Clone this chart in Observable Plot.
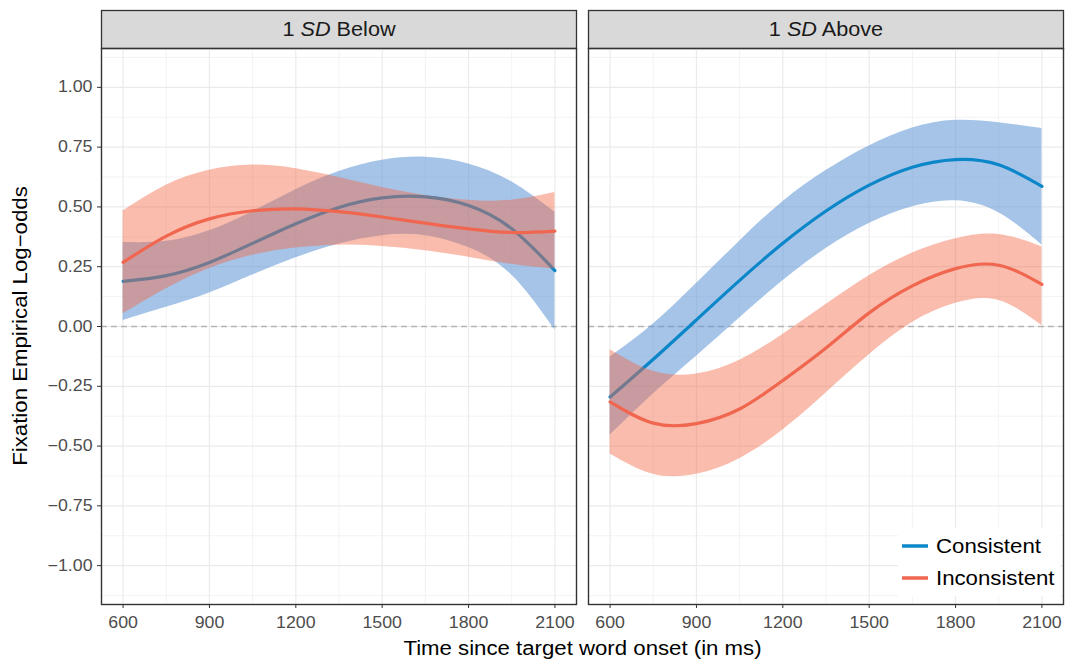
<!DOCTYPE html>
<html>
<head>
<meta charset="utf-8">
<script src="https://cdn.jsdelivr.net/npm/d3@7"></script>
<script src="https://cdn.jsdelivr.net/npm/@observablehq/plot@0.6"></script>
<style>
  body { margin: 0; background: #fff; }
  #chart { position: relative; width: 1068px; height: 659px; }
</style>
</head>
<body>
<div id="chart"></div>
<script>
// ---- Data ----
const panels = ["1 SD Below", "1 SD Above"];
const conditions = ["Consistent", "Inconsistent"];
const lineColors = ["#0b87c9", "#f0664f"];
const ribbonFills = ["#5b93d6", "#f26b4a"];
const ribbonOpacity = [0.55, 0.45];

const times = [600, 750, 900, 1050, 1200, 1350, 1500, 1650, 1800, 1950, 2100];

// Panel "1 SD Below"
const belowConsFit = [0.189, 0.213, 0.268, 0.348, 0.430, 0.498, 0.538, 0.542, 0.506, 0.409, 0.234];
const belowConsLo  = [0.025, 0.080, 0.140, 0.215, 0.287, 0.345, 0.380, 0.380, 0.330, 0.215, -0.015];
const belowConsHi  = [0.351, 0.356, 0.400, 0.480, 0.572, 0.648, 0.695, 0.708, 0.680, 0.605, 0.478];
const belowIncFit  = [0.268, 0.378, 0.450, 0.484, 0.492, 0.480, 0.458, 0.432, 0.408, 0.393, 0.399];
const belowIncLo   = [0.053, 0.158, 0.243, 0.298, 0.328, 0.340, 0.335, 0.317, 0.290, 0.260, 0.240];
const belowIncHi   = [0.483, 0.591, 0.653, 0.675, 0.660, 0.623, 0.581, 0.548, 0.528, 0.528, 0.560];

// Panel "1 SD Above"
const aboveConsFit = [-0.295, -0.137, 0.028, 0.193, 0.348, 0.483, 0.591, 0.666, 0.698, 0.676, 0.586];
const aboveConsLo  = [-0.454, -0.282, -0.124, 0.036, 0.191, 0.326, 0.431, 0.501, 0.526, 0.476, 0.341];
const aboveConsHi  = [-0.128, 0.010, 0.180, 0.357, 0.522, 0.652, 0.755, 0.830, 0.862, 0.852, 0.828];
const aboveIncFit  = [-0.315, -0.404, -0.406, -0.345, -0.226, -0.090, 0.057, 0.170, 0.242, 0.256, 0.176];
const aboveIncLo   = [-0.533, -0.618, -0.618, -0.553, -0.433, -0.278, -0.118, 0.017, 0.097, 0.109, 0.004];
const aboveIncHi   = [-0.097, -0.187, -0.199, -0.141, -0.033, 0.092, 0.212, 0.307, 0.367, 0.385, 0.333];

const yMajor = [-1, -0.75, -0.5, -0.25, 0, 0.25, 0.5, 0.75, 1];
const yMinor = [-1.125, -0.875, -0.625, -0.375, -0.125, 0.125, 0.375, 0.625, 0.875, 1.125];
const xMajor = [600, 900, 1200, 1500, 1800, 2100];
const xMinor = [750, 1050, 1350, 1650, 1950];

const xTitle = "Time since target word onset (in ms)";
const yTitle = "Fixation Empirical Log\u2212odds";

// ---- Build table ----
const series = {
  "1 SD Below": {
    Consistent: [belowConsFit, belowConsLo, belowConsHi],
    Inconsistent: [belowIncFit, belowIncLo, belowIncHi]
  },
  "1 SD Above": {
    Consistent: [aboveConsFit, aboveConsLo, aboveConsHi],
    Inconsistent: [aboveIncFit, aboveIncLo, aboveIncHi]
  }
};
const rows = [];
for (const p of panels) for (const c of conditions) {
  const [fit, lo, hi] = series[p][c];
  times.forEach((t, i) => rows.push({panel: p, condition: c, time: t, fit: fit[i], lo: lo[i], hi: hi[i]}));
}

const W = 1068, H = 659, mL = 101, mR = 4, mT = 48, mB = 55;
const gridStyle = {stroke: "#ebebeb", strokeOpacity: 1};
const ff = '"Liberation Sans", Arial, sans-serif';

const condMarks = conditions.flatMap((c, i) => {
  const d = rows.filter(r => r.condition === c);
  return [
    Plot.areaY(d, {x: "time", y1: "lo", y2: "hi", fx: "panel", fill: ribbonFills[i], fillOpacity: ribbonOpacity[i], curve: "natural"}),
    Plot.lineY(d, {x: "time", y: "fit", fx: "panel", stroke: lineColors[i], strokeWidth: 3.2, curve: "natural"})
  ];
});

const svg = Plot.plot({
  width: W, height: H,
  marginLeft: mL, marginRight: mR, marginTop: mT, marginBottom: mB,
  style: {fontFamily: ff, fontSize: "16px", background: "white", overflow: "visible"},
  fx: {domain: panels, paddingInner: 0.0246, paddingOuter: 0, axis: null, label: null},
  x: {domain: [525, 2175]},
  y: {domain: [-1.1625, 1.1625]},
  marks: [
    Plot.frame({fill: "#d9d9d9", stroke: "#333333", strokeWidth: 1.3, insetTop: -38, insetBottom: H - mT - mB}),
    Plot.gridX(xMinor, {...gridStyle, strokeWidth: 0.6}),
    Plot.gridY(yMinor, {...gridStyle, strokeWidth: 0.6}),
    Plot.gridX(xMajor, {...gridStyle, strokeWidth: 1.2}),
    Plot.gridY(yMajor, {...gridStyle, strokeWidth: 1.2}),
    Plot.ruleY([0], {stroke: "#b5b5b5", strokeWidth: 1.4, strokeDasharray: "6,4"}),
    ...condMarks,
    Plot.frame({stroke: "#333333", strokeWidth: 1.4}),
    Plot.axisY(yMajor, {tickSize: 4, tickPadding: 5, tickFormat: d3.format(".2f"), fill: "#4d4d4d", stroke: "#333333", fontSize: 16, label: null}),
    Plot.axisX(xMajor, {tickSize: 4, tickPadding: 8, tickFormat: d => String(d), fill: "#4d4d4d", stroke: "#333333", fontSize: 16, label: null}),
    Plot.text(panels, {fx: d => d, text: d => d, frameAnchor: "top", lineAnchor: "middle", dy: -19, fontSize: 19.5, fill: "#1a1a1a"})
  ]
});

document.getElementById("chart").appendChild(svg);
const s = d3.select(svg);

// Italic "SD" in strip labels
s.selectAll("text").each(function() {
  const t = this.textContent;
  if (!panels.includes(t)) return;
  const m = t.match(/^(\S+ )(SD)( .+)$/);
  if (!m) return;
  const sel = d3.select(this);
  sel.text(null);
  sel.append("tspan").text(m[1]);
  sel.append("tspan").attr("font-style", "italic").text(m[2]);
  sel.append("tspan").text(m[3]);
});

// Axis titles
s.append("text")
  .attr("x", (mL + W - mR) / 2).attr("y", 655)
  .attr("text-anchor", "middle").attr("font-family", ff).attr("font-size", 20).attr("fill", "#000")
  .text(xTitle);
s.append("text")
  .attr("transform", `translate(27,${(mT + H - mB) / 2}) rotate(-90)`)
  .attr("text-anchor", "middle").attr("font-family", ff).attr("font-size", 20).attr("fill", "#000")
  .text(yTitle);

// Legend inside right panel (bottom-right)
const lg = s.append("g").attr("font-family", ff);
lg.append("rect").attr("x", 898).attr("y", 528).attr("width", 162).attr("height", 68).attr("fill", "white");
conditions.forEach((c, i) => {
  const cy = 546 + i * 32;
  lg.append("line").attr("x1", 902).attr("x2", 928).attr("y1", cy).attr("y2", cy)
    .attr("stroke", lineColors[i]).attr("stroke-width", 3.5);
  lg.append("text").attr("x", 936).attr("y", cy).attr("dy", "0.35em")
    .attr("text-anchor", "start").attr("font-size", 20).attr("fill", "#000").text(c);
});

// The reference typeface runs a little wider than Liberation Sans: widen all texts slightly
s.selectAll("text").each(function() {
  const len = this.getComputedTextLength();
  if (len > 0) {
    this.setAttribute("textLength", (len * 1.11).toFixed(1));
    this.setAttribute("lengthAdjust", "spacingAndGlyphs");
  }
});
</script>
</body>
</html>
